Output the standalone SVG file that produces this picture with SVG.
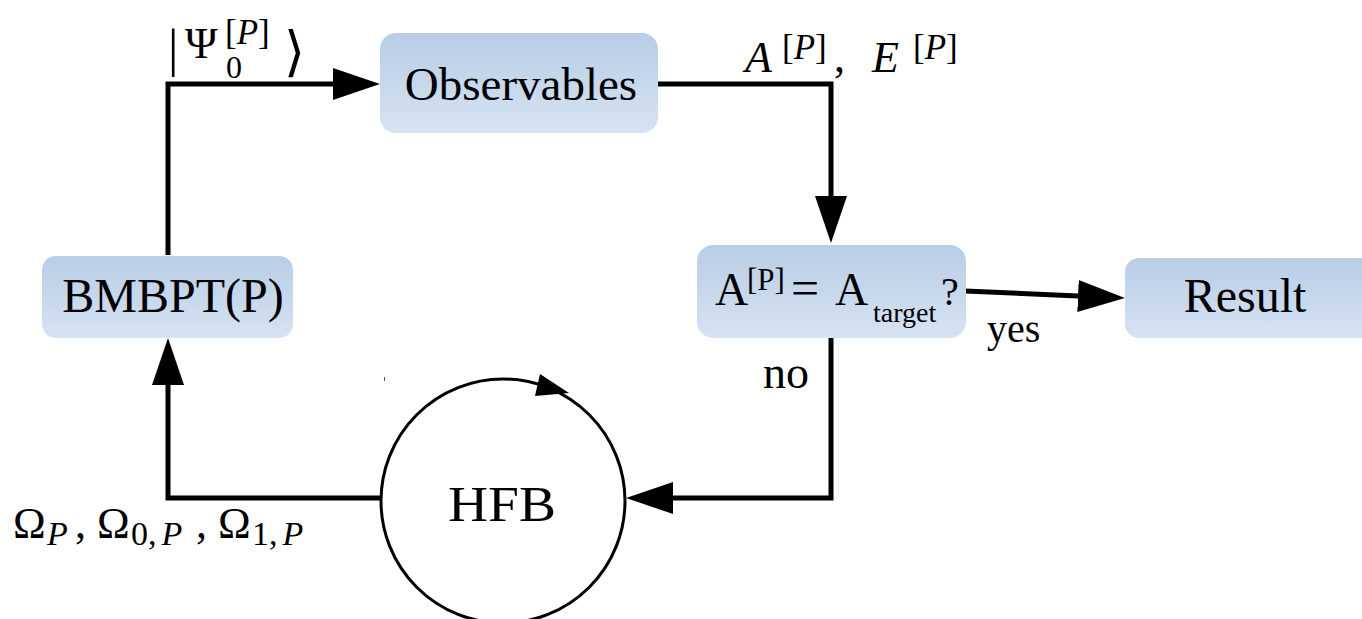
<svg xmlns="http://www.w3.org/2000/svg" width="1362" height="619" viewBox="0 0 1362 619">
<defs>
<linearGradient id="boxfill" x1="0" y1="0" x2="0" y2="1">
<stop offset="0" stop-color="#b8cde6"/>
<stop offset="1" stop-color="#d6e3f2"/>
</linearGradient>
<marker id="head" markerUnits="userSpaceOnUse" markerWidth="50" markerHeight="36" viewBox="0 -18 50 36" refX="0" refY="0" orient="auto">
<path d="M0,-16 L47,0 L0,16 Z" fill="#000"/>
</marker>
</defs>
<rect width="1362" height="619" fill="#fff"/>

<g id="connectors" fill="none" stroke="#000" stroke-width="5" stroke-linejoin="miter">
<path d="M168,255 L168,84 L333,84" marker-end="url(#head)"/>
<path d="M658,84 L831,84 L831,196" marker-end="url(#head)"/>
<path d="M965,291 L1078,296" marker-end="url(#head)"/>
<path d="M831,338 L831,498 L673,498" marker-end="url(#head)"/>
<path d="M380,498 L168,498 L168,385" marker-end="url(#head)"/>
</g>

<g id="label-psi" fill="#000">
<text x="168" y="66" font-size="52" font-family="Liberation Serif">|</text>
<text x="185" y="58" font-size="44" font-family="Liberation Serif">Ψ</text>
<text x="226" y="78" font-size="32" font-family="Liberation Serif">0</text>
<text x="225" y="44" font-size="35" font-family="Liberation Serif">[<tspan font-style="italic">P</tspan>]</text>
<text x="284" y="70" font-size="54" font-family="DejaVu Serif">⟩</text>
</g>

<g id="label-AE" fill="#000">
<text x="745" y="72" font-size="44" font-style="italic" font-family="Liberation Serif">A</text>
<text x="782" y="59" font-size="35" font-family="Liberation Serif">[<tspan font-style="italic">P</tspan>]</text>
<text x="834" y="72" font-size="44" font-family="Liberation Serif">,</text>
<text x="872" y="72" font-size="44" font-style="italic" font-family="Liberation Serif">E</text>
<text x="913" y="59" font-size="35" font-family="Liberation Serif">[<tspan font-style="italic">P</tspan>]</text>
</g>

<g id="label-omega" fill="#000">
<text x="13" y="538" font-size="44" font-family="Liberation Serif">Ω</text>
<text x="47" y="545" font-size="34" font-style="italic" font-family="Liberation Serif">P</text>
<text x="75" y="538" font-size="44" font-family="Liberation Serif">,</text>
<text x="97" y="538" font-size="44" font-family="Liberation Serif">Ω</text>
<text x="131" y="545" font-size="34" font-family="Liberation Serif">0,<tspan dx="5" font-style="italic">P</tspan></text>
<text x="196" y="538" font-size="44" font-family="Liberation Serif">,</text>
<text x="218" y="538" font-size="44" font-family="Liberation Serif">Ω</text>
<text x="252" y="545" font-size="34" font-family="Liberation Serif">1,<tspan dx="5" font-style="italic">P</tspan></text>
</g>

<g id="node-observables">
<rect fill="url(#boxfill)" x="380" y="33" width="278" height="100" rx="16"/>
<text x="521" y="100" font-size="47" text-anchor="middle" font-family="Liberation Serif">Observables</text>
</g>

<g id="node-bmbpt">
<rect fill="url(#boxfill)" x="42" y="256" width="251" height="82" rx="14"/>
<text x="173" y="312" font-size="48" text-anchor="middle" font-family="Liberation Serif">BMBPT(P)</text>
</g>

<g id="node-decision">
<rect fill="url(#boxfill)" x="697" y="245" width="269" height="93" rx="16"/>
<text x="715" y="305" font-size="46" font-family="Liberation Serif">A</text>
<text x="747" y="290" font-size="31" font-family="Liberation Serif">[P]</text>
<text x="791" y="305" font-size="50" font-family="Liberation Serif">=</text>
<text x="835" y="305" font-size="46" font-family="Liberation Serif">A</text>
<text x="873" y="322" font-size="28" font-family="Liberation Serif">target</text>
<text x="941" y="305" font-size="40" font-family="Liberation Serif">?</text>
</g>

<g id="node-result">
<rect fill="url(#boxfill)" x="1125" y="258" width="250" height="80" rx="14"/>
<text x="1245" y="312" font-size="48" text-anchor="middle" font-family="Liberation Serif">Result</text>
</g>

<g id="node-hfb">
<circle cx="503" cy="501" r="122" fill="#fff" stroke="#000" stroke-width="3"/>
<polygon points="540,374 569,393 535,396" fill="#000"/>
<text x="502" y="521" font-size="50" text-anchor="middle" font-family="Liberation Serif" textLength="108" lengthAdjust="spacingAndGlyphs">HFB</text>
</g>

<g id="edge-labels" fill="#000">
<text x="763" y="388" font-size="46" font-family="Liberation Serif">no</text>
<text x="987" y="342" font-size="40" font-family="Liberation Serif">yes</text>
</g>

<line x1="384.5" y1="377" x2="384.5" y2="381" stroke="#555" stroke-width="1"/>
</svg>
